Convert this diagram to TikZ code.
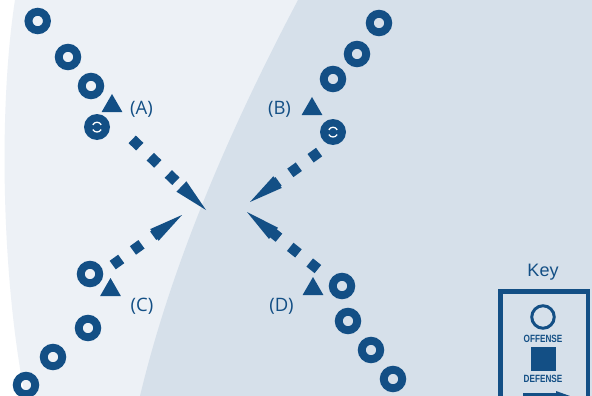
\documentclass[tikz,border=0pt]{standalone}
\usepackage{fontspec}
\setmainfont{Open Sans}
\newfontfamily\keyfont{Liberation Sans}
\usetikzlibrary{calc,shapes.geometric}

\definecolor{navy}{RGB}{19,79,133}
\definecolor{paleblue}{RGB}{237,241,246}
\definecolor{mistblue}{RGB}{214,224,234}

\tikzset{
  offense/.style={circle,draw=navy,line width=7.9pt,minimum size=18.5pt,inner sep=0pt},
  carrier/.style={circle,fill=navy,minimum size=26pt,inner sep=0pt},
  marker/.style={regular polygon,regular polygon sides=3,fill=navy,minimum size=24pt,inner sep=0pt},
  tag/.style={text=navy,font=\fontsize{18.5}{22}\selectfont,anchor=base,inner sep=0pt},
  route/.style={navy,line width=10.5pt,dash pattern=on 10.5pt off 14.5pt},
  keylabel/.style={text=navy,inner sep=0pt,font=\keyfont\bfseries\fontsize{10.5}{12}\selectfont},
  ballmark/.style={white,line width=1.3pt},
}

% white strokes on a ball carrier: a cap above the centre and a cup below it
\newcommand\carriermarks[1]{%
  \draw[ballmark] ($(#1.center)+(-4.2,-2.2)$) .. controls ($(#1.center)+(-2.2,-5.6)$) and ($(#1.center)+(2.2,-5.6)$) .. ($(#1.center)+(4.2,-2.2)$);
  \draw[ballmark] ($(#1.center)+(-4.2,2.6)$) .. controls ($(#1.center)+(-2.2,5.8)$) and ($(#1.center)+(2.2,5.8)$) .. ($(#1.center)+(4.2,2.6)$);
}

% dashed run ending in a long triangular head: #1 start, #2 tip
\newcommand\playroute[2]{%
  \draw[route] (#1) -- ($(#2)!27pt!(#1)$);
  \coordinate (#2-base) at ($(#2)!34pt!(#1)$);
  \fill[navy] (#2) -- ($(#2-base)!7.2pt!90:(#2)$) -- ($(#2-base)!7.2pt!-90:(#2)$) -- cycle;
}

\begin{document}
\begin{tikzpicture}[x=1pt,y=-1pt]
\useasboundingbox (0,0) rectangle (592,396);
\clip (0,0) rectangle (592,396);

% field shading
\fill[white] (0,0) rectangle (592,396);
\fill[paleblue] (15,0) .. controls (-2,110) and (2,280) .. (25,396) -- (592,396) -- (592,0) -- cycle;
\fill[mistblue] (298,0) .. controls (240,110) and (175,250) .. (140,396) -- (592,396) -- (592,0) -- cycle;

% line A
\node[offense] (a1) at (37.7,21) {};
\node[offense] (a2) at (68,57) {};
\node[offense] (a3) at (91,86) {};
\node[carrier] (ae) at (97,127) {};
\carriermarks{ae}
\node[marker] (am) at (112,106) {};
\node[tag] (al) at (141.5,114.3) {(A)};

% line B
\node[offense] (b1) at (379,23) {};
\node[offense] (b2) at (357,54) {};
\node[offense] (b3) at (333,79) {};
\node[carrier] (be) at (333,132) {};
\carriermarks{be}
\node[marker] (bm) at (312,109) {};
\node[tag] (bl) at (279.5,114.3) {(B)};

% line C
\node[offense] (c1) at (90,274) {};
\node[offense] (c2) at (88,328) {};
\node[offense] (c3) at (53,357) {};
\node[offense] (c4) at (26,385) {};
\node[marker] (cm) at (110.5,290) {};
\node[tag] (cl) at (142,311.7) {(C)};

% line D
\node[offense] (d1) at (342,286) {};
\node[offense] (d2) at (348,321) {};
\node[offense] (d3) at (371,350) {};
\node[offense] (d4) at (393,379) {};
\node[marker] (dm) at (313,289) {};
\node[tag] (dl) at (281.5,311) {(D)};

% runs toward the centre
\coordinate (sA) at (132.2,139.4);
\coordinate (tA) at (206,210);
\coordinate (sB) at (319.1,152.1);
\coordinate (tB) at (250,202);
\coordinate (sC) at (112.7,265.1);
\coordinate (tC) at (182,215);
\coordinate (sD) at (317.9,269.1);
\coordinate (tD) at (247,212);
\playroute{sA}{tA}
\playroute{sB}{tB}
\playroute{sC}{tC}
\playroute{sD}{tD}

% key
\node[text=navy,font=\keyfont\fontsize{18}{20}\selectfont,inner sep=0pt] (keytitle) at (543,272) {Key};
\draw[navy,line width=4.6pt] (500.5,291.5) rectangle (588,430);
\node[circle,draw=navy,line width=3pt,minimum size=22.5pt,inner sep=0pt] (keyoff) at (543,317) {};
\node[keylabel] (keyofftext) at (543,338.5) {\scalebox{0.78}[1]{OFFENSE}};
\node[fill=navy,minimum width=25pt,minimum height=24pt,inner sep=0pt] (keydef) at (543.5,359) {};
\node[keylabel] (keydeftext) at (543,379) {\scalebox{0.78}[1]{DEFENSE}};
\fill[navy] (523,393) rectangle (558,403);
\fill[navy] (556,391) -- (584,401) -- (556,411) -- cycle;
\end{tikzpicture}
\end{document}
